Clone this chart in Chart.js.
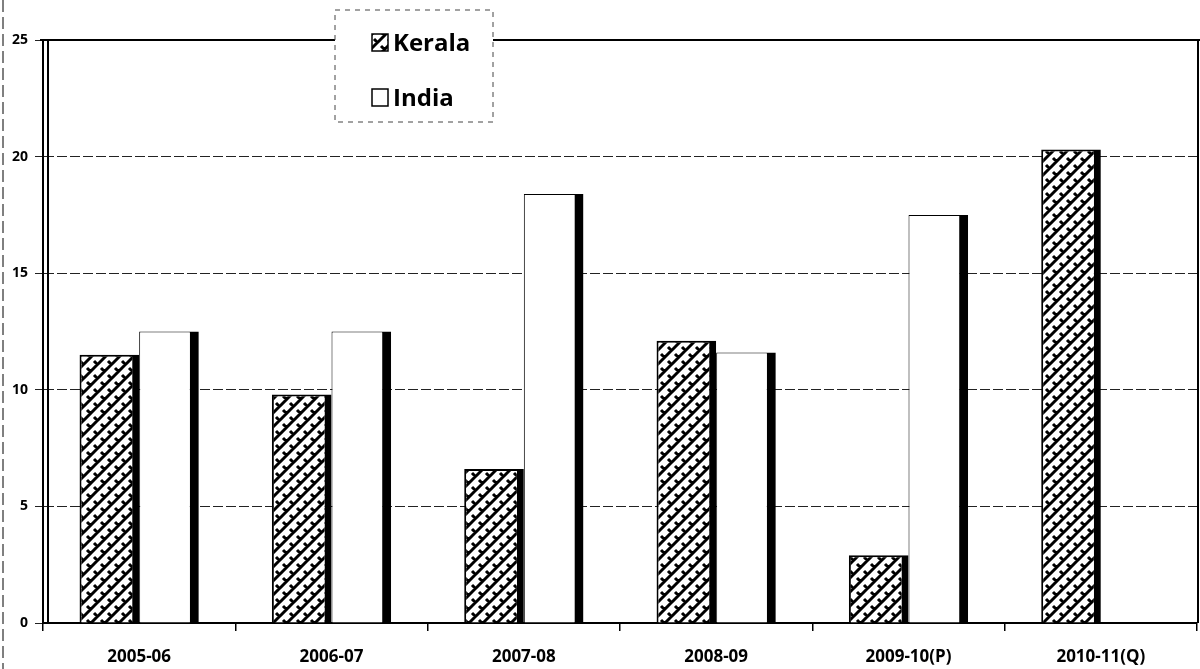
<!DOCTYPE html>
<html>
<head>
<meta charset="utf-8">
<script src="https://cdn.jsdelivr.net/npm/chart.js@4/dist/chart.umd.min.js"></script>
<style>
  html, body { margin: 0; padding: 0; background: #fff; }
  #wrap { width: 1200px; height: 669px; position: relative; }
</style>
</head>
<body>
<div id="wrap"><canvas id="growthChart" width="1200" height="669"></canvas></div>
<script>
const years = ["2005-06", "2006-07", "2007-08", "2008-09", "2009-10(P)", "2010-11(Q)"];
const kerala = [11.5, 9.8, 6.6, 12.1, 2.9, 20.3];
const india = [12.5, 12.5, 18.4, 11.6, 17.5, null];
const yTicks = [0, 5, 10, 15, 20, 25];

const FONT = "'Open Sans', 'DejaVu Sans', sans-serif";

// brick-like diagonal hatch for Kerala
function makeHatch() {
  const c = document.createElement("canvas");
  c.width = 14; c.height = 14;
  const g = c.getContext("2d");
  g.fillStyle = "#fff";
  g.fillRect(0, 0, 14, 14);
  g.strokeStyle = "#000";
  g.lineWidth = 3;
  g.beginPath();
  // "/" lines
  g.moveTo(-2, 16); g.lineTo(16, -2);
  g.moveTo(-9, 9); g.lineTo(9, -9);
  g.moveTo(5, 23); g.lineTo(23, 5);
  // short "\" breaks
  g.moveTo(3, 4); g.lineTo(7, 8);
  g.moveTo(10, 11); g.lineTo(14, 15);
  g.moveTo(-4, -3); g.lineTo(0, 1);
  g.stroke();
  return g.createPattern(c, "repeat");
}

const hatch = makeHatch();

// legend box, frame lines, scan edge
const decorations = {
  id: "decorations",
  afterDraw(chart) {
    const { ctx, chartArea: a } = chart;
    ctx.save();
    ctx.strokeStyle = "#000";
    // top & right frame
    ctx.lineWidth = 2;
    ctx.beginPath();
    ctx.moveTo(a.left - 3, a.top);
    ctx.lineTo(a.right + 3, a.top);
    ctx.moveTo(a.right + 1, a.top);
    ctx.lineTo(a.right + 1, a.bottom);
    ctx.stroke();
    // second y-axis line
    ctx.beginPath();
    ctx.moveTo(a.left + 5, a.top);
    ctx.lineTo(a.left + 5, a.bottom);
    ctx.stroke();
    // scanned page edge
    ctx.lineWidth = 1;
    ctx.setLineDash([12, 5]);
    ctx.beginPath();
    ctx.moveTo(3, 0);
    ctx.lineTo(3, 669);
    ctx.stroke();

    // legend
    const lx = 335, ly = 10, lw = 158, lh = 112;
    ctx.setLineDash([]);
    ctx.fillStyle = "#fff";
    ctx.fillRect(lx, ly, lw, lh);
    ctx.setLineDash([5, 5]);
    ctx.lineWidth = 1;
    ctx.strokeStyle = "#444";
    ctx.strokeRect(lx, ly, lw, lh);
    ctx.setLineDash([]);
    chart.data.datasets.forEach((ds, i) => {
      const y = ly + 33 + i * 55;
      ctx.fillStyle = i === 0 ? hatch : "#fff";
      ctx.fillRect(lx + 37, y - 9, 16, 17);
      ctx.lineWidth = 1.5;
      ctx.strokeStyle = "#000";
      ctx.strokeRect(lx + 37, y - 9, 16, 17);
      ctx.fillStyle = "#000";
      ctx.font = "bold 24px " + FONT;
      ctx.textBaseline = "middle";
      ctx.fillText(ds.label, lx + 58, y + 1);
    });
    ctx.restore();
  }
};

new Chart(document.getElementById("growthChart"), {
  type: "bar",
  data: {
    labels: years,
    datasets: [
      {
        label: "Kerala",
        data: kerala,
        backgroundColor: hatch,
        borderColor: "#000",
        borderWidth: { top: 2, left: 2, right: 7, bottom: 0 },
        borderSkipped: false
      },
      {
        label: "India",
        data: india,
        backgroundColor: "#fff",
        borderColor: "#000",
        borderWidth: { top: 1, left: 1, right: 9, bottom: 0 },
        borderSkipped: false
      }
    ]
  },
  options: {
    responsive: false,
    animation: false,
    layout: { padding: { top: 40, right: 3, left: 0, bottom: 0 } },
    plugins: {
      legend: { display: false },
      tooltip: { enabled: false }
    },
    datasets: {
      bar: { categoryPercentage: 0.62, barPercentage: 1.0 }
    },
    scales: {
      x: {
        grid: { display: true, drawOnChartArea: false, offset: true, tickLength: 8, color: "#000", lineWidth: 1.5 },
        border: { display: true, color: "#000", width: 2 },
        ticks: {
          color: "#000",
          padding: 16,
          maxRotation: 0,
          font: { family: FONT, size: 17, weight: "bold" }
        },
        afterFit(scale) { scale.height = 46; }
      },
      y: {
        min: 0,
        max: 25,
        afterBuildTicks(scale) { scale.ticks = yTicks.map(v => ({ value: v })); },
        grid: { color: "#222", lineWidth: 1, tickLength: 8, drawTicks: true },
        border: { display: true, color: "#000", width: 2, dash: [10, 3] },
        ticks: {
          color: "#000",
          padding: 7,
          font: { family: FONT, size: 14, weight: "bold" }
        },
        afterFit(scale) { scale.width = 43; }
      }
    }
  },
  plugins: [decorations]
});
</script>
</body>
</html>
